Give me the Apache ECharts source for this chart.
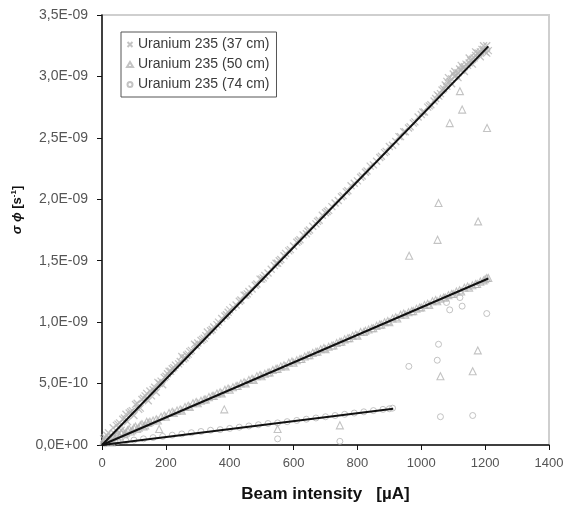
<!DOCTYPE html>
<html><head><meta charset="utf-8">
<script src="https://cdn.jsdelivr.net/npm/echarts@6/dist/echarts.min.js"></script>
<style>html,body{margin:0;padding:0;background:#fff}#c{width:568px;height:509px}</style>
</head><body><div id="c"></div>
<script>
// y values in units of 1E-09 s^-1, x in µA
const xTicks = [0, 200, 400, 600, 800, 1000, 1200, 1400];
const seriesNames = ['Uranium 235 (37 cm)', 'Uranium 235 (50 cm)', 'Uranium 235 (74 cm)'];

const u37 = [[5,0.05],[15,0.08],[25,0.03],[35,0.14],[50,0.17],[60,0.12],[75,0.25],[90,0.27],[105,0.33],[120,0.30],
[140,0.42],[160,0.45],[175,0.51],[190,0.49],[210,0.60],[230,0.65],[250,0.72],[270,0.74],[290,0.82],[310,0.85],
[330,0.92],[350,0.96],[375,1.03],[400,1.10],[420,1.14],[445,1.22],[470,1.27],[495,1.35],[520,1.40],[545,1.48],
[570,1.54],[600,1.62],[630,1.71],[660,1.78],[690,1.87],[720,1.94],[750,2.02],[780,2.11],[810,2.18],[840,2.27],
[870,2.34],[900,2.43],[930,2.51],[960,2.58],[990,2.67],[1020,2.75],[1050,2.85],[1070,2.90],[1090,2.96],[1110,3.01],
[1130,3.07],[1150,3.11],[1165,3.15],[1180,3.19],[1195,3.22],[1205,3.25],[1085,2.99],[1100,3.02],[1120,3.06],[1140,3.10],
[1175,3.19],[1190,3.22],[1200,3.20],[1210,3.21],[65,0.21],[130,0.38],[200,0.56],[260,0.71],[320,0.87],[385,1.05],
[460,1.25],[530,1.43],[585,1.58],[645,1.74],[705,1.90],[765,2.06],[825,2.22],[885,2.38],[945,2.55],[1005,2.71],
[1060,2.86],[1145,3.09],
[10,0.06],[20,0.10],[40,0.09],[45,0.16],[55,0.18],[70,0.22],[80,0.19],[85,0.26],[95,0.28],[100,0.24],
[110,0.34],[115,0.29],[125,0.37],[135,0.40],[145,0.36],[150,0.44],[155,0.40],[165,0.47],[170,0.43],[180,0.50],
[185,0.52],[195,0.55],[205,0.58],[215,0.60],[220,0.62],[225,0.63],[240,0.66],[245,0.68],[255,0.70],[265,0.73],
[275,0.76],[280,0.77],[295,0.81],[300,0.83],[315,0.86],[325,0.89],[340,0.93],[345,0.94],[360,0.98],[365,1.00],
[390,1.06],[395,1.08],[410,1.12],[430,1.17],[435,1.18],[450,1.22],[455,1.23],[480,1.30],[485,1.31],[500,1.35],
[505,1.36],[510,1.38],[540,1.46],[550,1.48],[555,1.50],[560,1.51],[575,1.56],[590,1.59],[610,1.65],[615,1.66],
[620,1.67],[640,1.72],[650,1.75],[670,1.80],[675,1.82],[680,1.83],[700,1.89],[710,1.91],[730,1.97],[740,1.99],
[755,2.03],[770,2.07],[790,2.13],[800,2.15],[815,2.19],[830,2.23],[850,2.28],[860,2.31],[875,2.35],[890,2.39],
[910,2.44],[920,2.47],[935,2.51],[950,2.55],[965,2.59],[975,2.62],[980,2.63],[1000,2.69],[1010,2.71],[1025,2.76],
[1030,2.77],[1040,2.80],[1045,2.82],[1055,2.84],[1065,2.89],[1075,2.93],[1080,2.92],[1095,2.98],[1105,3.00],[1115,3.03],
[1125,3.05],[1135,3.08],[1155,3.13],[1160,3.14],[1170,3.17],[1185,3.20],[1080,2.96],[1095,2.94],[1105,3.04],[1115,2.99],
[1125,3.09],[1135,3.04],[1150,3.15],[1160,3.10],[1170,3.20],[1185,3.16],[1195,3.25],[1205,3.19]];

const u50 = [[5,0.03],[15,0.05],[30,0.02],[45,0.08],[60,0.10],[80,0.12],[100,0.14],[120,0.16],[140,0.19],[160,0.20],
[185,0.23],[210,0.26],[235,0.28],[260,0.31],[285,0.34],[310,0.36],[335,0.39],[360,0.42],[385,0.45],[410,0.47],
[435,0.50],[460,0.53],[485,0.56],[510,0.58],[535,0.61],[560,0.64],[585,0.67],[610,0.69],[635,0.72],[660,0.75],
[685,0.78],[710,0.80],[735,0.83],[760,0.86],[785,0.89],[810,0.92],[835,0.94],[860,0.97],[885,1.00],[910,1.03],
[935,1.06],[960,1.08],[985,1.11],[1010,1.14],[1035,1.17],[1060,1.19],[1085,1.22],[1110,1.25],[1135,1.28],[1160,1.30],
[1185,1.33],[1205,1.36],
[10,0.04],[20,0.03],[25,0.06],[35,0.07],[40,0.05],[50,0.09],[55,0.07],[65,0.11],[70,0.09],[75,0.10],
[85,0.13],[90,0.11],[95,0.12],[105,0.15],[110,0.13],[115,0.14],[125,0.17],[130,0.15],[135,0.16],[145,0.18],
[150,0.19],[170,0.21],[175,0.20],[195,0.24],[200,0.23],[220,0.27],[225,0.26],[245,0.29],[250,0.28],[270,0.32],
[275,0.31],[295,0.35],[300,0.34],[320,0.37],[325,0.37],[345,0.40],[350,0.40],[370,0.43],[375,0.42],[395,0.46],
[400,0.45],[420,0.48],[425,0.48],[445,0.51],[450,0.50],[470,0.54],[475,0.53],[495,0.57],[500,0.56],[520,0.59],
[525,0.59],[545,0.62],[550,0.62],[570,0.65],[575,0.64],[595,0.68],[600,0.67],[620,0.70],[625,0.70],[645,0.73],
[650,0.73],[670,0.76],[675,0.76],[695,0.79],[700,0.78],[720,0.81],[725,0.81],[745,0.84],[750,0.84],[770,0.87],
[775,0.87],[795,0.90],[800,0.89],[820,0.92],[825,0.93],[845,0.95],[850,0.95],[870,0.98],[875,0.98],[895,1.01],
[900,1.00],[920,1.04],[925,1.03],[945,1.07],[950,1.06],[970,1.09],[975,1.09],[995,1.12],[1000,1.12],[1020,1.15],
[1025,1.14],[1045,1.18],[1050,1.17],[1070,1.20],[1075,1.20],[1095,1.23],[1100,1.23],[1120,1.26],[1125,1.25],[1145,1.29],
[1150,1.28],[1170,1.31],[1175,1.31],[1195,1.34],[1200,1.35],[1210,1.36]];
const u50Outliers = [[1054,1.97],[1178,1.82],[1051,1.67],[962,1.54],[1060,0.56],[1161,0.60],[1177,0.77],
[1121,2.88],[1128,2.73],[1089,2.62],[1206,2.58],[383,0.29],[179,0.13],[550,0.13],[745,0.16]];

const u74 = [[10,0.01],[30,0.02],[50,0.03],[75,0.035],[100,0.04],[130,0.05],[160,0.06],[190,0.07],[220,0.08],[250,0.09],
[280,0.10],[310,0.11],[340,0.12],[370,0.125],[400,0.135],[430,0.145],[460,0.155],[490,0.165],[520,0.175],[550,0.18],
[580,0.19],[610,0.20],[640,0.21],[670,0.22],[700,0.23],[730,0.24],[760,0.25],[790,0.26],[820,0.27],[850,0.28],
[880,0.29],[900,0.295],[910,0.30]];
const u74Outliers = [[1121,1.20],[1128,1.13],[1089,1.10],[1079,1.16],[1205,1.07],[1054,0.82],[1050,0.69],[961,0.64],
[1060,0.23],[1161,0.24],[550,0.05],[745,0.03]];

const fit37 = [[0,0],[1210,3.245]];
const fit50 = [[0,0],[1210,1.355]];
const fit74 = [[0,0],[912,0.296]];

const gray = '#b4b4b4';
const crossPath = 'path://M0,0L10,10M10,0L0,10';
const FONT = 'Liberation Sans, Arial, sans-serif';
function sc(name, data, symbol, size, bw) {
  return {name, type:'scatter', data, symbol, symbolSize:size, z:2,
    itemStyle:{color:'rgba(0,0,0,0)', borderColor:gray, borderWidth:bw}};
}
function fit(data){
  return {type:'line', data, symbol:'none', z:5, silent:true,
    lineStyle:{color:'#111', width:2}};
}
function fmtY(v){
  if (v === 0) return '0,0E+00';
  const s = (v*1e-9).toExponential(1);
  const m = s.split('e');
  const mant = m[0].replace('.', ',');
  const ex = parseInt(m[1], 10);
  const sign = ex < 0 ? '-' : '+';
  const a = Math.abs(ex);
  return mant + 'E' + sign + (a < 10 ? '0' + a : a);
}

const chart = echarts.init(document.getElementById('c'), null, {renderer:'canvas'});
chart.setOption({
  animation:false,
  backgroundColor:'#fff',
  grid:{left:102, right:19, top:15, bottom:64, show:true, borderColor:'#cfcfcf', borderWidth:2, backgroundColor:'#fff'},
  legend:{
    data:seriesNames, orient:'vertical', left:121, top:32,
    padding:[5,7,5,5], itemGap:5, itemWidth:6, itemHeight:5,
    borderColor:'#555', borderWidth:1, backgroundColor:'#fff',
    textStyle:{fontFamily:FONT, fontSize:14, lineHeight:15, color:'#3a3a3a'}
  },
  xAxis:{
    type:'value', min:xTicks[0], max:xTicks[xTicks.length-1], interval:200,
    name:'Beam intensity   [\u00b5A]', nameLocation:'middle', nameGap:41,
    nameTextStyle:{fontFamily:FONT, fontWeight:'bold', fontSize:17, color:'#111'},
    axisLine:{lineStyle:{color:'#111', width:1.5}},
    axisTick:{show:true, inside:false, length:5, lineStyle:{color:'#111'}},
    axisLabel:{fontFamily:FONT, fontSize:13, color:'#555', margin:12, formatter:function(v){return String(v);}},
    splitLine:{show:false}
  },
  yAxis:{
    type:'value', min:0, max:3.5, interval:0.5,
    name:'{i|\u03c3 \u03d5} {b|[s}{sup|-1}{b|]}', nameLocation:'middle', nameGap:78, nameRotate:90,
    nameTextStyle:{padding:[0,0,0,40], rich:{
      i:{fontFamily:FONT, fontWeight:'bold', fontStyle:'italic', fontSize:13, color:'#111'},
      b:{fontFamily:FONT, fontWeight:'bold', fontSize:13, color:'#111'},
      sup:{fontFamily:FONT, fontWeight:'bold', fontSize:8, color:'#111', verticalAlign:'top', padding:[0,0,6,0]}
    }},
    axisLine:{show:true, lineStyle:{color:'#111', width:1.5}},
    axisTick:{show:true, inside:false, length:5, lineStyle:{color:'#111'}},
    axisLabel:{fontFamily:FONT, fontSize:14, color:'#555', margin:14, formatter:fmtY},
    splitLine:{show:false}
  },
  series:[
    sc(seriesNames[0], u37, crossPath, 7, 1.3),
    sc(seriesNames[1], u50.concat(u50Outliers), 'triangle', 7, 1.1),
    sc(seriesNames[2], u74.concat(u74Outliers), 'circle', 6, 1),
    fit(fit37), fit(fit50), fit(fit74)
  ]
});
</script></body></html>
